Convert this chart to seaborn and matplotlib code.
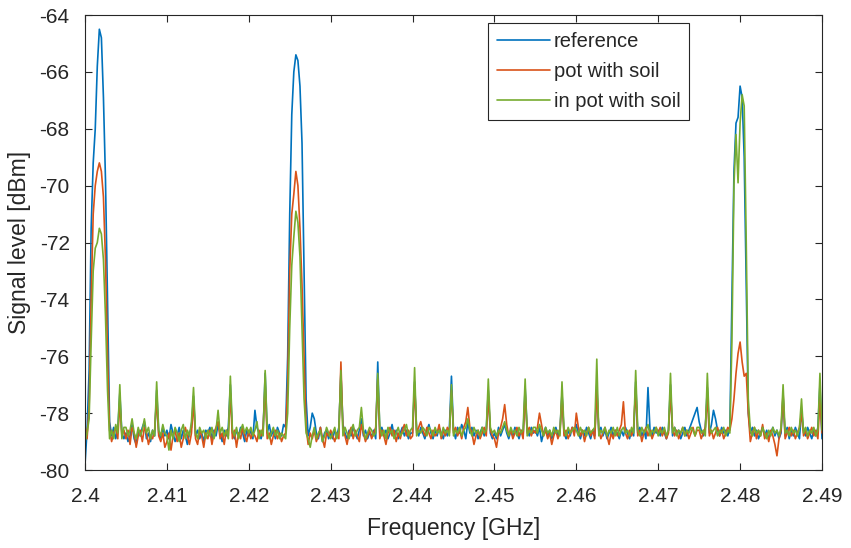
import numpy as np
import pandas as pd
import matplotlib
matplotlib.use('Agg')
import matplotlib.pyplot as plt
import seaborn as sns

# frequency grid of the spectrum sweep (GHz), 0.25 MHz steps
freq = np.linspace(2.4, 2.49, 361)

series_names = ['reference', 'pot with soil', 'in pot with soil']
series_colors = ['#0072BD', '#D95319', '#77AC30']

# signal level [dBm]
reference = [
    -79.8, -78.6, -76.5, -71.5, -69.2, -68.0, -65.8, -64.5, -64.8, -66.9, -69.8, -74.0, -78.3, -78.8, -78.5, -78.9, -78.6, -77.3, -78.7, -78.9,
    -78.7, -79.0, -78.8, -78.4, -78.9, -79.1, -78.6, -78.8, -78.5, -78.3, -78.9, -78.7, -79.0, -78.6, -78.8, -77.2, -78.7, -78.9, -78.5, -78.8,
    -78.6, -78.9, -78.4, -78.7, -79.0, -78.8, -78.5, -78.9, -78.6, -78.8, -79.1, -78.7, -78.5, -77.4, -78.8, -78.6, -78.9, -78.7, -79.0, -78.6,
    -78.7, -78.5, -78.9, -78.6, -78.8, -78.4, -78.7, -79.0, -78.6, -78.8, -78.5, -77.0, -78.7, -78.9, -78.6, -78.8, -78.5, -78.7, -79.0, -78.6,
    -78.8, -78.6, -78.9, -77.9, -78.5, -78.7, -78.9, -78.6, -76.6, -78.7, -78.4, -78.8, -78.6, -78.9, -78.5, -78.7, -78.8, -78.4, -78.5, -76.0,
    -71.0, -67.5, -66.0, -65.4, -65.6, -66.5, -68.5, -73.0, -77.5, -78.8, -78.5, -78.0, -78.2, -78.7, -78.9, -78.5, -79.0, -78.7, -78.6, -78.9,
    -78.7, -78.9, -78.6, -78.8, -78.5, -76.6, -78.4, -78.7, -78.9, -78.6, -78.8, -78.5, -78.7, -78.9, -78.6, -78.2, -78.8, -78.6, -78.9, -78.7,
    -78.8, -78.6, -78.9, -76.2, -78.7, -78.5, -78.8, -78.6, -78.9, -78.7, -78.4, -78.8, -78.6, -78.9, -78.7, -78.5, -78.8, -78.6, -78.9, -78.7,
    -78.7, -76.9, -78.6, -78.8, -78.5, -78.7, -78.9, -78.6, -78.4, -78.7, -78.9, -78.6, -78.8, -78.5, -78.7, -78.9, -78.6, -78.8, -78.5, -76.7,
    -78.6, -78.9, -78.5, -78.7, -78.4, -78.6, -78.9, -78.3, -78.7, -78.5, -78.8, -78.6, -78.9, -78.7, -78.5, -78.8, -78.6, -77.2, -78.7, -78.9,
    -78.7, -78.9, -78.5, -78.8, -78.6, -78.4, -78.7, -78.9, -78.6, -78.8, -78.5, -78.7, -78.9, -78.6, -78.8, -77.1, -78.6, -78.8, -78.5, -78.7,
    -78.6, -78.8, -78.5, -79.0, -78.7, -78.5, -78.8, -78.6, -78.9, -78.7, -78.5, -78.8, -78.6, -77.3, -78.7, -78.9, -78.6, -78.8, -78.5, -78.7,
    -78.4, -78.7, -78.9, -78.6, -78.8, -78.5, -78.7, -78.9, -78.6, -78.8, -77.0, -78.7, -78.5, -78.8, -78.6, -78.9, -78.7, -78.5, -78.8, -78.6,
    -78.7, -78.9, -78.6, -78.8, -78.5, -78.7, -78.9, -78.6, -78.8, -76.9, -78.7, -78.5, -78.8, -78.6, -78.9, -77.1, -78.6, -78.8, -78.5, -78.7,
    -78.6, -78.8, -78.5, -78.7, -78.9, -78.6, -77.0, -78.8, -78.5, -78.7, -78.6, -78.9, -78.7, -78.5, -78.8, -78.6, -78.4, -78.2, -78.0, -77.8,
    -78.3, -78.6, -78.8, -78.5, -77.1, -78.7, -78.4, -77.9, -78.2, -78.6, -78.8, -78.5, -78.7, -78.6, -78.8, -78.5, -74.0, -69.5, -67.8, -67.6,
    -66.5, -66.9, -69.0, -73.5, -78.0, -78.7, -78.5, -78.8, -78.6, -78.9, -78.7, -78.5, -78.8, -78.6, -78.9, -78.7, -78.5, -78.8, -78.6, -78.9,
    -78.7, -77.4, -78.8, -78.5, -78.9, -78.6, -78.8, -78.5, -78.7, -78.9, -77.9, -78.6, -78.8, -78.5, -78.7, -78.9, -78.6, -78.8, -78.5, -77.0,
    -78.9,
]

pot_with_soil = [
    -78.4, -78.9, -77.8, -74.0, -71.0, -70.0, -69.5, -69.2, -69.5, -70.4, -72.6, -76.0, -78.6, -79.0, -78.7, -78.5, -78.9, -77.6, -78.8, -78.6,
    -78.9, -78.6, -79.1, -78.5, -78.7, -79.2, -78.8, -78.6, -79.0, -78.5, -78.7, -79.1, -78.8, -78.9, -78.6, -77.5, -78.8, -79.0, -78.7, -79.2,
    -79.0, -78.7, -79.3, -78.8, -78.6, -79.0, -78.7, -79.2, -78.9, -78.5, -78.8, -79.1, -78.7, -77.6, -78.9, -79.1, -78.6, -78.8, -79.2, -78.7,
    -78.9, -78.6, -79.1, -78.7, -78.5, -78.3, -78.9, -78.7, -79.1, -78.6, -78.8, -77.3, -78.9, -78.6, -79.2, -78.7, -78.9, -78.5, -78.8, -79.0,
    -78.6, -78.9, -78.7, -78.8, -79.0, -78.6, -78.8, -78.5, -77.0, -78.9, -78.7, -79.1, -78.8, -78.6, -78.9, -78.7, -79.0, -78.8, -78.7, -77.0,
    -73.0, -71.0, -70.3, -69.5, -70.0, -71.5, -73.5, -76.0, -78.5, -79.1, -78.7, -78.9, -78.6, -79.0, -78.8, -78.5, -78.9, -79.2, -78.7, -78.8,
    -78.6, -78.8, -79.0, -78.7, -78.9, -76.2, -78.6, -78.8, -79.1, -78.7, -78.5, -78.9, -78.6, -78.8, -79.0, -78.4, -78.7, -79.0, -78.8, -78.6,
    -78.9, -78.7, -78.5, -76.8, -78.9, -78.6, -78.8, -79.1, -78.7, -78.5, -78.8, -78.6, -79.0, -78.7, -78.9, -78.6, -78.4, -78.8, -78.6, -78.9,
    -78.8, -77.0, -78.7, -78.5, -78.3, -78.6, -78.8, -78.5, -78.7, -78.9, -78.6, -78.8, -78.7, -78.4, -78.9, -78.6, -78.8, -78.5, -78.7, -77.2,
    -78.7, -78.5, -78.8, -78.6, -78.9, -78.5, -78.3, -77.8, -78.5, -78.7, -79.1, -78.8, -78.6, -78.9, -78.7, -78.5, -78.8, -77.4, -78.6, -78.8,
    -78.9, -79.2, -78.7, -78.5, -78.2, -77.7, -78.4, -78.8, -78.6, -78.9, -78.7, -78.5, -78.8, -78.6, -78.9, -77.3, -78.7, -78.5, -78.8, -78.6,
    -78.7, -78.5, -78.0, -78.4, -78.8, -78.6, -78.9, -78.7, -79.1, -78.8, -78.6, -78.9, -78.7, -77.4, -78.8, -78.6, -78.9, -78.7, -78.5, -78.8,
    -78.0, -78.5, -78.8, -78.6, -79.0, -78.7, -78.5, -78.8, -78.6, -78.9, -77.2, -78.6, -78.9, -78.7, -78.5, -78.8, -79.1, -78.7, -78.9, -78.6,
    -78.8, -78.6, -78.4, -77.6, -78.7, -78.9, -78.6, -78.8, -78.5, -77.1, -78.8, -78.6, -79.0, -78.7, -78.5, -78.8, -78.6, -78.9, -78.7, -78.5,
    -78.7, -78.5, -78.8, -78.6, -78.9, -78.7, -77.3, -78.5, -78.8, -78.6, -78.9, -78.7, -78.5, -78.8, -78.6, -78.9, -78.7, -78.5, -78.8, -78.6,
    -78.6, -78.9, -78.7, -78.5, -77.4, -78.8, -78.6, -78.9, -78.7, -78.5, -78.8, -78.6, -78.9, -78.7, -78.5, -78.6, -78.2, -77.5, -76.6, -75.9,
    -75.5, -76.2, -76.7, -76.6, -78.0, -79.0, -78.7, -78.5, -78.9, -78.6, -78.8, -78.4, -78.9, -78.7, -79.0, -78.6, -78.8, -79.1, -79.5, -78.9,
    -78.6, -77.3, -78.9, -78.7, -78.5, -78.8, -78.6, -78.9, -78.7, -78.5, -78.0, -78.8, -78.6, -78.9, -78.7, -78.5, -78.8, -78.6, -78.9, -77.5,
    -78.7,
]

in_pot_with_soil = [
    -79.0, -78.7, -78.2, -75.5, -73.0, -72.2, -72.0, -71.5, -71.7, -72.6, -74.6, -77.2, -78.9, -78.6, -78.9, -78.4, -78.7, -77.0, -78.9, -78.5,
    -78.5, -78.8, -78.6, -78.2, -78.7, -78.9, -78.5, -78.8, -78.6, -78.2, -78.7, -78.5, -78.9, -78.6, -78.8, -76.9, -78.6, -78.8, -78.4, -78.7,
    -78.8, -79.3, -78.6, -78.9, -78.5, -78.7, -79.0, -78.6, -78.4, -78.9, -78.6, -78.8, -78.3, -77.1, -78.7, -78.9, -78.5, -78.7, -78.6, -78.9,
    -78.6, -78.8, -78.5, -78.9, -78.6, -77.9, -78.7, -78.5, -78.8, -78.6, -78.9, -76.7, -78.6, -78.8, -78.5, -78.9, -78.6, -78.4, -78.7, -78.5,
    -78.7, -78.5, -78.8, -78.6, -78.3, -78.9, -78.6, -78.8, -76.5, -78.6, -78.9, -78.7, -78.5, -78.8, -78.6, -78.9, -78.7, -78.8, -78.9, -78.0,
    -75.0, -72.8, -71.8, -70.9, -71.3, -72.5, -75.0, -77.5, -78.7, -78.9, -79.2, -78.8, -78.5, -78.9, -78.7, -78.6, -79.0, -78.8, -78.5, -78.7,
    -78.9, -78.7, -78.5, -78.9, -78.6, -76.5, -78.8, -78.5, -78.7, -78.9, -78.6, -78.4, -78.8, -78.6, -78.5, -77.8, -78.6, -78.9, -78.7, -78.5,
    -78.6, -78.8, -78.7, -76.6, -78.5, -78.8, -78.6, -78.9, -78.5, -78.7, -78.6, -78.9, -78.7, -78.5, -78.8, -78.7, -78.6, -78.4, -78.8, -78.6,
    -78.5, -76.4, -78.8, -78.6, -78.7, -78.5, -78.6, -78.8, -78.5, -78.6, -78.8, -78.5, -78.7, -78.6, -78.8, -78.5, -78.7, -78.6, -78.8, -77.0,
    -78.8, -78.6, -78.7, -78.5, -78.8, -78.6, -78.5, -78.2, -78.6, -78.8, -78.5, -78.7, -78.6, -78.8, -78.5, -78.7, -78.6, -76.8, -78.5, -78.7,
    -78.6, -78.8, -78.6, -78.7, -78.5, -78.3, -78.6, -78.8, -78.5, -78.7, -78.6, -78.8, -78.5, -78.7, -78.6, -76.8, -78.8, -78.6, -78.7, -78.5,
    -78.5, -78.7, -78.4, -78.6, -78.8, -78.5, -78.7, -78.6, -78.8, -78.5, -78.7, -78.6, -78.8, -76.9, -78.6, -78.8, -78.5, -78.7, -78.6, -78.5,
    -78.6, -78.8, -78.5, -78.7, -78.6, -78.8, -78.5, -78.7, -78.6, -78.5, -76.1, -78.8, -78.6, -78.7, -78.5, -78.8, -78.6, -78.7, -78.5, -78.8,
    -78.5, -78.8, -78.6, -78.5, -78.7, -78.6, -78.8, -78.5, -78.7, -76.5, -78.6, -78.8, -78.5, -78.7, -78.6, -78.4, -78.8, -78.6, -78.7, -78.5,
    -78.8, -78.6, -78.7, -78.5, -78.8, -78.6, -76.6, -78.7, -78.5, -78.8, -78.6, -78.7, -78.5, -78.8, -78.6, -78.7, -78.5, -78.6, -78.8, -78.5,
    -78.5, -78.7, -78.6, -78.8, -76.6, -78.5, -78.7, -78.6, -78.5, -78.8, -78.6, -78.7, -78.5, -78.8, -78.6, -78.7, -75.5, -70.0, -68.2, -69.9,
    -67.8, -66.8, -67.2, -72.0, -77.5, -78.6, -78.8, -78.5, -78.7, -78.6, -78.8, -78.5, -78.7, -78.9, -78.6, -78.8, -78.5, -78.7, -78.6, -78.8,
    -78.5, -77.0, -78.7, -78.6, -78.8, -78.5, -78.7, -78.6, -78.8, -78.5, -77.5, -78.7, -78.5, -78.8, -78.6, -78.7, -78.5, -78.8, -78.6, -76.6,
    -78.6,
]

x_ticks = [2.40, 2.41, 2.42, 2.43, 2.44, 2.45, 2.46, 2.47, 2.48, 2.49]
x_tick_labels = ['2.4', '2.41', '2.42', '2.43', '2.44', '2.45', '2.46', '2.47', '2.48', '2.49']
y_ticks = [-80, -78, -76, -74, -72, -70, -68, -66, -64]
y_tick_labels = ['-80', '-78', '-76', '-74', '-72', '-70', '-68', '-66', '-64']

df = pd.concat([
    pd.DataFrame({'freq': freq, 'level': vals, 'series': name})
    for name, vals in zip(series_names, [reference, pot_with_soil, in_pot_with_soil])
], ignore_index=True)

sns.set_style('ticks')
plt.rcParams['font.family'] = ['Liberation Sans', 'DejaVu Sans']
plt.rcParams['axes.unicode_minus'] = False

fig = plt.figure(figsize=(8.51, 5.48), dpi=100)
# axes box: x 85..822 px, y 15..470 px
ax = fig.add_axes([0.0999, 0.1423, 0.866, 0.8303])

sns.lineplot(data=df, x='freq', y='level', hue='series', hue_order=series_names,
             palette=series_colors, linewidth=1.2, estimator=None, sort=False, ax=ax)

ax.set_xlim(2.4, 2.49)
ax.set_ylim(-80, -64)
ax.set_xticks(x_ticks)
ax.set_xticklabels(x_tick_labels)
ax.set_yticks(y_ticks)
ax.set_yticklabels(y_tick_labels)
ax.tick_params(direction='in', top=True, right=True, length=5, width=0.8,
               colors='#262626', labelsize=15)
ax.tick_params(axis='x', pad=12)
ax.tick_params(axis='y', pad=11)
for sp in ax.spines.values():
    sp.set_color('#262626')
    sp.set_linewidth(0.8)

ax.set_xlabel('Frequency [GHz]', fontsize=16.5, color='#262626', labelpad=8)
ax.set_ylabel('Signal level [dBm]', fontsize=16.5, color='#262626', labelpad=6)

leg = ax.legend(loc='upper left', bbox_to_anchor=(0.547, 0.982), borderaxespad=0,
                fontsize=14.5, handlelength=2.6, frameon=True, fancybox=False,
                edgecolor='#262626', framealpha=1, borderpad=0.45, labelspacing=0.55,
                handletextpad=0.2)
leg.get_frame().set_linewidth(0.8)

fig.savefig('out.png', dpi=100)
